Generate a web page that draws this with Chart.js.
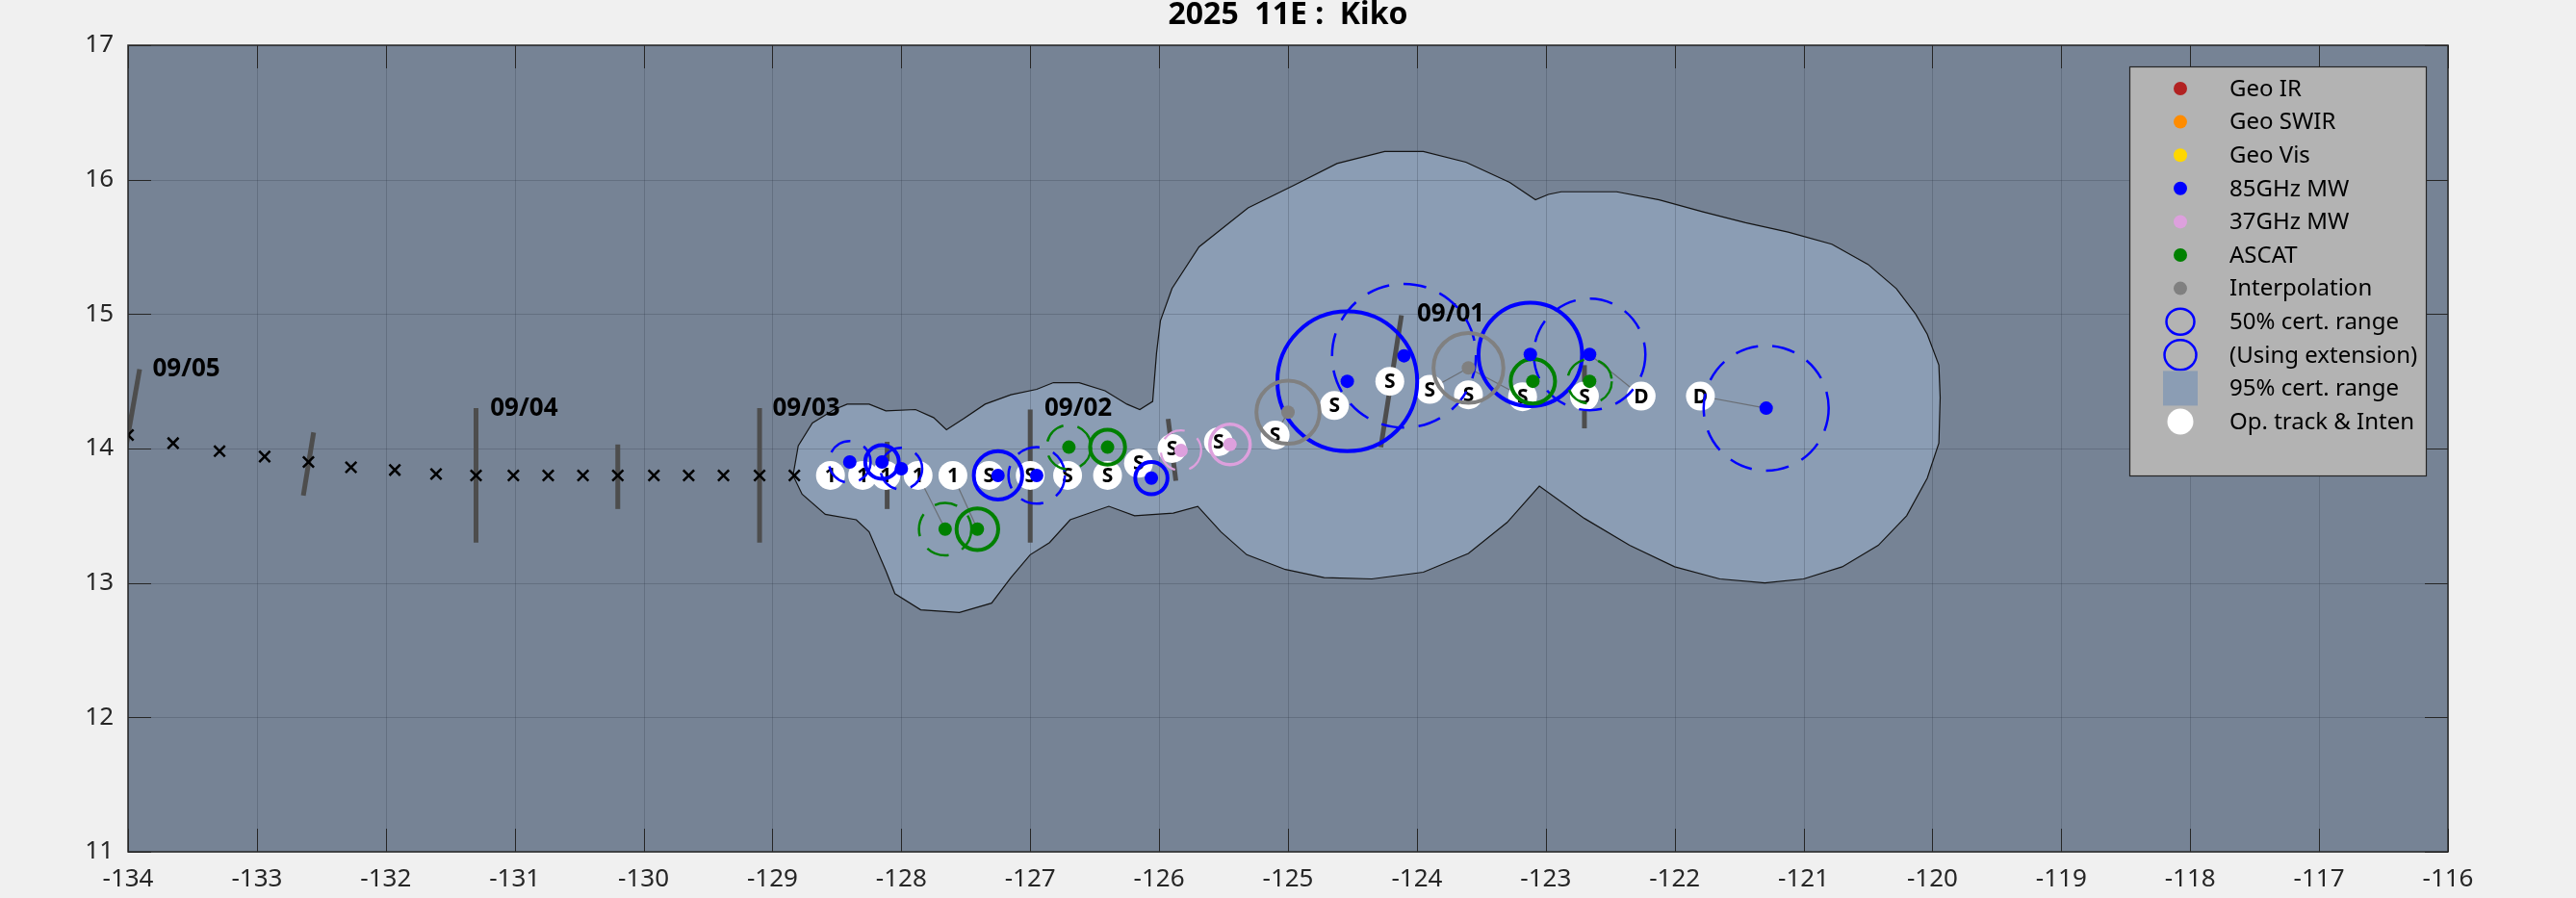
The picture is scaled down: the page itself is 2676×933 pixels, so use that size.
<!DOCTYPE html>
<html>
<head>
<meta charset="utf-8">
<title>2025 11E : Kiko</title>
<script src="https://cdn.jsdelivr.net/npm/chart.js@4.4.1/dist/chart.umd.min.js"></script>
<style>
  html, body { margin: 0; padding: 0; background: #f0f0f0; }
  #wrap { width: 2676px; height: 933px; }
</style>
</head>
<body>
<div id="wrap"><canvas id="trackChart" width="2676" height="933"></canvas></div>
<script>
// axis ticks
const xTicks = [-134, -133, -132, -131, -130, -129, -128, -127, -126, -125, -124, -123, -122, -121, -120, -119, -118, -117, -116];
const yTicks = [11, 12, 13, 14, 15, 16, 17];

// best track (x markers)
const trackLon = [-134.00, -133.65, -133.29, -132.94, -132.60, -132.27, -131.93, -131.61, -131.30, -131.01, -130.74, -130.47, -130.20, -129.92, -129.65, -129.38, -129.10, -128.83];
const trackLat = [14.10, 14.04, 13.98, 13.94, 13.90, 13.86, 13.84, 13.81, 13.80, 13.80, 13.80, 13.80, 13.80, 13.80, 13.80, 13.80, 13.80, 13.80];

// operational track & intensity (white discs)
const opLon = [-128.55, -128.30, -128.12, -127.87, -127.60, -127.32, -127.00, -126.71, -126.40, -126.16, -125.90, -125.54, -125.10, -124.64, -124.21, -123.90, -123.60, -123.18, -122.70, -122.26, -121.80];
const opLat = [13.80, 13.80, 13.80, 13.80, 13.80, 13.80, 13.80, 13.80, 13.80, 13.89, 14.00, 14.05, 14.10, 14.32, 14.50, 14.44, 14.40, 14.385, 14.39, 14.39, 14.39];
const opCode = ['1', '1', '1', '1', '1', 'S', 'S', 'S', 'S', 'S', 'S', 'S', 'S', 'S', 'S', 'S', 'S', 'S', 'S', 'D', 'D'];

// fixes: position, 50% radius (deg lat), 1 = using extension
const mw85Lon = [-128.40, -128.15, -128.00, -127.25, -126.95, -126.06, -124.54, -124.10, -123.12, -122.66, -121.29];
const mw85Lat = [13.90, 13.90, 13.85, 13.80, 13.80, 13.78, 14.50, 14.69, 14.70, 14.70, 14.30];
const mw85Rad = [0.155, 0.125, 0.155, 0.18, 0.21, 0.12, 0.52, 0.535, 0.385, 0.415, 0.465];
const mw85Ext = [1, 0, 1, 0, 1, 0, 0, 1, 0, 1, 1];

const mw37Lon = [-125.83, -125.45];
const mw37Lat = [13.985, 14.03];
const mw37Rad = [0.15, 0.15];
const mw37Ext = [1, 0];

const ascatLon = [-127.66, -127.41, -126.70, -126.40, -123.10, -122.66];
const ascatLat = [13.40, 13.40, 14.01, 14.01, 14.50, 14.50];
const ascatRad = [0.195, 0.155, 0.165, 0.13, 0.165, 0.165];
const ascatExt = [1, 0, 1, 0, 0, 1];

const interpLon = [-125.00, -123.60];
const interpLat = [14.27, 14.60];
const interpRad = [0.235, 0.26];
const interpExt = [0, 0];

// links from fixes to op track
const linkLon1 = [-127.66, -127.41, -125.00, -123.60, -123.60, -122.66, -121.29];
const linkLat1 = [13.40, 13.40, 14.27, 14.60, 14.60, 14.70, 14.30];
const linkLon2 = [-127.87, -127.60, -125.10, -123.90, -123.18, -122.26, -121.80];
const linkLat2 = [13.80, 13.80, 14.10, 14.44, 14.385, 14.39, 14.39];

// 00Z / 12Z marks across the track
const markLon1 = [-134.09, -132.64, -131.30, -130.20, -129.10, -128.11, -127.00, -125.87, -124.28, -122.70];
const markLat1 = [13.61, 13.65, 13.30, 13.55, 13.30, 13.55, 13.30, 13.76, 14.01, 14.15];
const markLon2 = [-133.91, -132.56, -131.30, -130.20, -129.10, -128.11, -127.00, -125.93, -124.12, -122.70];
const markLat2 = [14.59, 14.12, 14.30, 14.03, 14.30, 14.05, 14.29, 14.22, 14.99, 14.62];

const dateLon = [-133.81, -131.19, -129.00, -126.89, -124.00];
const dateLat = [14.59, 14.30, 14.30, 14.30, 15.00];
const dateText = ['09/05', '09/04', '09/03', '09/02', '09/01'];

// 95% certainty range outline
const blobLon = [-128.84, -128.80, -128.69, -128.52, -128.42, -128.25, -128.12, -127.89, -127.75, -127.65, -127.52, -127.35, -127.15, -126.95, -126.82, -126.62, -126.42, -126.25, -126.15, -126.05, -126.02, -125.99, -125.90, -125.69, -125.31, -124.95, -124.62, -124.25, -123.95, -123.62, -123.28, -123.08, -122.98, -122.88, -122.45, -122.12, -121.78, -121.45, -121.12, -120.78, -120.50, -120.28, -120.13, -120.04, -119.95, -119.94, -119.95, -120.04, -120.20, -120.42, -120.70, -121.00, -121.30, -121.65, -122.00, -122.35, -122.70, -123.05, -123.30, -123.60, -123.95, -124.35, -124.72, -125.02, -125.32, -125.52, -125.70, -125.89, -126.19, -126.39, -126.69, -126.85, -127.00, -127.15, -127.30, -127.55, -127.85, -128.05, -128.12, -128.25, -128.35, -128.59, -128.77];
const blobLat = [13.80, 14.02, 14.19, 14.29, 14.33, 14.33, 14.28, 14.29, 14.23, 14.14, 14.22, 14.33, 14.40, 14.44, 14.49, 14.49, 14.43, 14.33, 14.29, 14.35, 14.71, 14.95, 15.19, 15.50, 15.79, 15.96, 16.12, 16.21, 16.21, 16.13, 15.98, 15.85, 15.89, 15.91, 15.91, 15.85, 15.76, 15.68, 15.61, 15.52, 15.37, 15.19, 15.00, 14.85, 14.62, 14.38, 14.04, 13.78, 13.50, 13.28, 13.12, 13.03, 13.00, 13.03, 13.12, 13.28, 13.48, 13.72, 13.45, 13.22, 13.08, 13.03, 13.04, 13.10, 13.21, 13.38, 13.57, 13.52, 13.50, 13.57, 13.47, 13.30, 13.21, 13.04, 12.85, 12.78, 12.80, 12.92, 13.09, 13.38, 13.47, 13.51, 13.66];

const legendLabels = ['Geo IR', 'Geo SWIR', 'Geo Vis', '85GHz MW', '37GHz MW', 'ASCAT', 'Interpolation', '50% cert. range', '(Using extension)', '95% cert. range', 'Op. track & Inten'];
const legendColors = ['#b22222', '#ff8c00', '#ffd700', '#0000ff', '#dda0dd', '#008000', '#808080', '#0000ff', '#0000ff', '#8b9db4', '#ffffff'];

const FONT = "'Noto Sans', 'Open Sans', sans-serif";
const BLOB_FILL = '#8b9db4';

function pts(lon, lat) {
    return lon.map((x, i) => ({ x: x, y: lat[i] }));
}

function ringRadius(ctx) {
    const p = ctx.raw;
    if (!p || p.r === undefined) return 0;
    const ys = ctx.chart.scales.y;
    return Math.abs(ys.getPixelForValue(p.y) - ys.getPixelForValue(p.y + p.r));
}

function ringSet(lon, lat, rad, ext, wantExt, color, width) {
    const data = [];
    lon.forEach((x, i) => {
        if (ext[i] === wantExt) data.push({ x: x, y: lat[i], r: rad[i] });
    });
    return {
        type: 'scatter',
        data: data,
        pointStyle: 'circle',
        pointRadius: ringRadius,
        pointBackgroundColor: 'rgba(0,0,0,0)',
        pointBorderColor: color,
        pointBorderWidth: width,
        ringDash: wantExt ? [24, 15] : null
    };
}

function dotSet(lon, lat, color) {
    return {
        type: 'scatter',
        data: pts(lon, lat),
        pointStyle: 'circle',
        pointRadius: 7,
        pointBackgroundColor: color,
        pointBorderWidth: 0
    };
}

function segSet(x1, y1, x2, y2, color, width) {
    return {
        type: 'line',
        data: [{ x: x1, y: y1 }, { x: x2, y: y2 }],
        borderColor: color,
        borderWidth: width,
        borderCapStyle: 'butt',
        pointRadius: 0,
        fill: false
    };
}

// datasets listed bottom -> top
const datasets = [];
datasets.push({
    type: 'line',
    role: 'blob',
    data: pts(blobLon, blobLat).concat([{ x: blobLon[0], y: blobLat[0] }]),
    fill: 'shape',
    backgroundColor: BLOB_FILL,
    borderColor: '#141414',
    borderWidth: 1.2,
    pointRadius: 0,
    tension: 0
});
markLon1.forEach((x, i) => datasets.push(segSet(x, markLat1[i], markLon2[i], markLat2[i], '#4d4d4d', 5)));
linkLon1.forEach((x, i) => datasets.push(segSet(x, linkLat1[i], linkLon2[i], linkLat2[i], 'rgba(95,95,95,0.75)', 1.2)));
datasets.push({
    type: 'scatter',
    data: pts(trackLon, trackLat),
    pointStyle: 'crossRot',
    pointRadius: 8,
    pointBorderColor: '#000000',
    pointBorderWidth: 2.5
});
datasets.push({
    type: 'scatter',
    role: 'op',
    data: pts(opLon, opLat),
    pointStyle: 'circle',
    pointRadius: 15,
    pointBackgroundColor: '#ffffff',
    pointBorderWidth: 0
});
datasets.push(ringSet(mw85Lon, mw85Lat, mw85Rad, mw85Ext, 1, '#0000ff', 2.5));
datasets.push(ringSet(mw85Lon, mw85Lat, mw85Rad, mw85Ext, 0, '#0000ff', 4));
datasets.push(ringSet(mw37Lon, mw37Lat, mw37Rad, mw37Ext, 1, '#dda0dd', 2.2));
datasets.push(ringSet(mw37Lon, mw37Lat, mw37Rad, mw37Ext, 0, '#dda0dd', 3.5));
datasets.push(ringSet(ascatLon, ascatLat, ascatRad, ascatExt, 1, '#008000', 2.5));
datasets.push(ringSet(ascatLon, ascatLat, ascatRad, ascatExt, 0, '#008000', 4));
datasets.push(ringSet(interpLon, interpLat, interpRad, interpExt, 0, '#808080', 4));
datasets.push(dotSet(interpLon, interpLat, '#808080'));
datasets.push(dotSet(mw37Lon, mw37Lat, '#dda0dd'));
datasets.push(dotSet(ascatLon, ascatLat, '#008000'));
datasets.push(dotSet(mw85Lon, mw85Lat, '#0000ff'));
datasets.forEach((d, i) => { d.order = datasets.length - i; });

function drawGrid(chart) {
    const { ctx, chartArea: a, scales: { x, y } } = chart;
    ctx.save();
    ctx.strokeStyle = 'rgba(30,40,55,0.22)';
    ctx.lineWidth = 1;
    ctx.beginPath();
    xTicks.forEach(v => {
        const px = Math.round(x.getPixelForValue(v)) + 0.5;
        ctx.moveTo(px, a.top);
        ctx.lineTo(px, a.bottom);
    });
    yTicks.forEach(v => {
        const py = Math.round(y.getPixelForValue(v)) + 0.5;
        ctx.moveTo(a.left, py);
        ctx.lineTo(a.right, py);
    });
    ctx.stroke();
    // date labels
    ctx.fillStyle = '#000000';
    ctx.font = 'bold 26px ' + FONT;
    ctx.textAlign = 'left';
    ctx.textBaseline = 'middle';
    dateText.forEach((t, i) => {
        ctx.fillText(t, x.getPixelForValue(dateLon[i]), y.getPixelForValue(dateLat[i]));
    });
    ctx.restore();
}

function drawOpLetters(chart, meta) {
    const ctx = chart.ctx;
    ctx.save();
    ctx.fillStyle = '#000000';
    ctx.font = 'bold 21px ' + FONT;
    ctx.textAlign = 'center';
    ctx.textBaseline = 'middle';
    meta.data.forEach((el, i) => ctx.fillText(opCode[i], el.x, el.y + 1));
    ctx.restore();
}

function drawFrame(chart) {
    const { ctx, chartArea: a, scales: { x, y } } = chart;
    ctx.save();
    ctx.strokeStyle = '#262626';
    ctx.lineWidth = 1;
    ctx.beginPath();
    xTicks.forEach(v => {
        const px = Math.round(x.getPixelForValue(v)) + 0.5;
        ctx.moveTo(px, a.bottom); ctx.lineTo(px, a.bottom - 24);
        ctx.moveTo(px, a.top); ctx.lineTo(px, a.top + 24);
    });
    yTicks.forEach(v => {
        const py = Math.round(y.getPixelForValue(v)) + 0.5;
        ctx.moveTo(a.left, py); ctx.lineTo(a.left + 24, py);
        ctx.moveTo(a.right, py); ctx.lineTo(a.right - 24, py);
    });
    ctx.stroke();
    ctx.lineWidth = 1.5;
    ctx.strokeRect(a.left, a.top, a.width, a.height);
    ctx.restore();
}

function drawLegend(chart) {
    const { ctx, chartArea: a } = chart;
    const left = a.right - 331, top = a.top + 22, w = 308, h = 425;
    ctx.save();
    ctx.fillStyle = '#b3b3b3';
    ctx.fillRect(left, top, w, h);
    ctx.strokeStyle = '#262626';
    ctx.lineWidth = 1.2;
    ctx.strokeRect(left + 0.5, top + 0.5, w, h);
    ctx.font = '24px ' + FONT;
    ctx.textAlign = 'left';
    ctx.textBaseline = 'middle';
    legendLabels.forEach((lab, i) => {
        const cy = top + 23 + i * 34.6;
        const cx = left + 53;
        ctx.fillStyle = legendColors[i];
        ctx.strokeStyle = legendColors[i];
        if (i <= 6) {
            ctx.beginPath(); ctx.arc(cx, cy, 7, 0, Math.PI * 2); ctx.fill();
        } else if (i === 7 || i === 8) {
            const r = i === 7 ? 14.5 : 16.5;
            ctx.lineWidth = 2.5;
            ctx.beginPath(); ctx.ellipse(cx, cy, r, r - 1, 0, 0, Math.PI * 2); ctx.stroke();
        } else if (i === 9) {
            ctx.fillRect(cx - 18, cy - 18, 36, 36);
        } else {
            ctx.beginPath(); ctx.arc(cx, cy, 13.5, 0, Math.PI * 2); ctx.fill();
        }
        ctx.fillStyle = '#000000';
        ctx.fillText(lab, left + 104, cy + 1);
    });
    ctx.restore();
}

const layerPlugin = {
    id: 'layerPlugin',
    beforeDraw(chart) {
        const { ctx, chartArea: a } = chart;
        ctx.save();
        ctx.fillStyle = '#768395';
        ctx.fillRect(a.left, a.top, a.width, a.height);
        ctx.restore();
    },
    beforeDatasetDraw(chart, args) {
        const ds = chart.data.datasets[args.index];
        if (ds.ringDash) {
            chart.ctx.save();
            chart.ctx.setLineDash(ds.ringDash);
        }
    },
    afterDatasetDraw(chart, args) {
        const ds = chart.data.datasets[args.index];
        if (ds.ringDash) chart.ctx.restore();
        if (ds.role === 'blob') drawGrid(chart);
        if (ds.role === 'op') drawOpLetters(chart, args.meta);
    },
    afterDraw(chart) {
        drawFrame(chart);
        drawLegend(chart);
        const ctx = chart.ctx;
        ctx.save();
        ctx.fillStyle = '#000000';
        ctx.font = 'bold 32px ' + FONT;
        ctx.textAlign = 'center';
        ctx.textBaseline = 'middle';
        ctx.fillText('2025  11E :  Kiko', (chart.chartArea.left + chart.chartArea.right) / 2, 16);
        ctx.restore();
    }
};

const ctx = document.getElementById('trackChart').getContext('2d');
window.trackChart = new Chart(ctx, {
    type: 'scatter',
    data: { datasets: datasets },
    plugins: [layerPlugin],
    options: {
        responsive: false,
        devicePixelRatio: 1,
        animation: false,
        events: [],
        layout: { padding: { top: 47, right: 133, left: 0, bottom: 0 } },
        plugins: {
            legend: { display: false },
            title: { display: false },
            tooltip: { enabled: false }
        },
        scales: {
            x: {
                type: 'linear',
                min: -134,
                max: -116,
                afterBuildTicks: s => { s.ticks = xTicks.map(v => ({ value: v })); },
                afterFit: s => { s.height = 48; },
                grid: { display: false, drawTicks: false },
                border: { display: false },
                ticks: {
                    callback: v => String(v),
                    padding: 13,
                    color: '#262626',
                    maxRotation: 0,
                    autoSkip: false,
                    font: { family: FONT, size: 26 }
                }
            },
            y: {
                type: 'linear',
                min: 11,
                max: 17,
                afterBuildTicks: s => { s.ticks = yTicks.map(v => ({ value: v })); },
                afterFit: s => { s.width = 133; },
                grid: { display: false, drawTicks: false },
                border: { display: false },
                ticks: {
                    callback: v => String(v),
                    padding: 15,
                    color: '#262626',
                    autoSkip: false,
                    font: { family: FONT, size: 26 }
                }
            }
        }
    }
});
</script>
</body>
</html>
